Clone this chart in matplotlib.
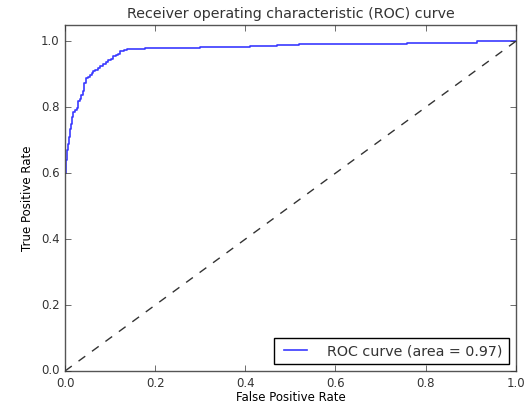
import matplotlib
matplotlib.use("Agg")
import matplotlib.pyplot as plt

# ROC curve points
fpr = [0.0, 0.0, 0.0, 0.002, 0.002, 0.004, 0.004, 0.006, 0.006, 0.008,
       0.008, 0.011, 0.011, 0.013, 0.013, 0.015, 0.015, 0.017, 0.017, 0.022,
       0.022, 0.026, 0.026, 0.028, 0.028, 0.033, 0.033, 0.036, 0.036, 0.039,
       0.039, 0.041, 0.041, 0.043, 0.043, 0.046, 0.046, 0.050, 0.050, 0.055,
       0.055, 0.059, 0.059, 0.063, 0.063, 0.067, 0.067, 0.072, 0.072, 0.078,
       0.078, 0.084, 0.084, 0.090, 0.090, 0.096, 0.096, 0.102, 0.102, 0.107,
       0.107, 0.113, 0.113, 0.118, 0.118, 0.122, 0.122, 0.130, 0.130, 0.137,
       0.137, 0.178, 0.178, 0.30, 0.30, 0.41, 0.41, 0.47, 0.47, 0.52, 0.52,
       0.758, 0.758, 0.914, 0.914, 1.0]
tpr = [0.0, 0.18, 0.60, 0.60, 0.64, 0.64, 0.67, 0.67, 0.69, 0.69,
       0.71, 0.71, 0.735, 0.735, 0.748, 0.748, 0.77, 0.77, 0.785, 0.785,
       0.792, 0.792, 0.798, 0.798, 0.818, 0.818, 0.824, 0.824, 0.836, 0.836,
       0.848, 0.848, 0.862, 0.862, 0.874, 0.874, 0.888, 0.888, 0.893, 0.893,
       0.898, 0.898, 0.904, 0.904, 0.911, 0.911, 0.914, 0.914, 0.918, 0.918,
       0.926, 0.926, 0.932, 0.932, 0.938, 0.938, 0.943, 0.943, 0.945, 0.945,
       0.955, 0.955, 0.958, 0.958, 0.963, 0.963, 0.970, 0.970, 0.974, 0.974,
       0.976, 0.976, 0.979, 0.979, 0.982, 0.982, 0.986, 0.986, 0.99, 0.99,
       0.993, 0.993, 0.995, 0.995, 1.0, 1.0]
roc_auc = 0.97

plt.style.use("classic")
plt.rcParams["font.family"] = ["DejaVu Sans"]
plt.rcParams["text.color"] = "#333333"
plt.rcParams["xtick.color"] = "#333333"
plt.rcParams["ytick.color"] = "#333333"

fig = plt.figure(figsize=(5.29, 4.07), dpi=100, facecolor="white")
ax = fig.add_axes([0.123, 0.0885, 0.852, 0.8505])

ax.plot(fpr, tpr, color="#3a3aff", lw=1.2,
        label="ROC curve (area = %0.2f)" % roc_auc)
ax.plot([0, 1], [0, 1], "k--", lw=1.0, color="#333333")
ax.set_xlim([0.0, 1.0])
ax.set_ylim([0.0, 1.05])
ax.set_xlabel("False Positive Rate", fontsize=8.5, labelpad=1)
ax.set_ylabel("True Positive Rate", fontsize=8.5)
ax.set_title("Receiver operating characteristic (ROC) curve", fontsize=10.3)
ax.tick_params(labelsize=8.5)
for s in ax.spines.values():
    s.set_color("#555555")
ax.legend(loc="lower right", fontsize=10.3, handlelength=2.2, handletextpad=1.1)

fig.savefig("out.png", dpi=100, facecolor="white")
